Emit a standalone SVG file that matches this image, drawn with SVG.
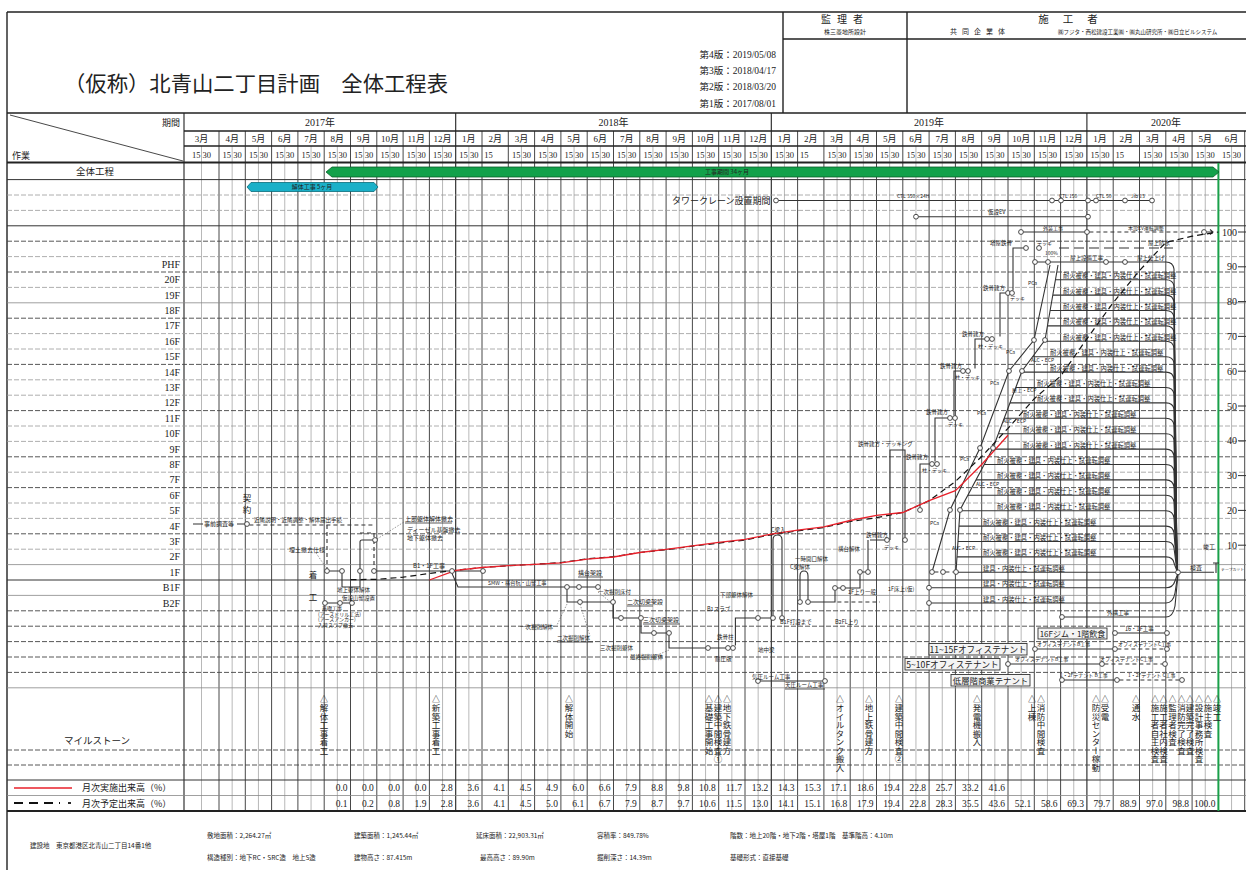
<svg xmlns="http://www.w3.org/2000/svg" xmlns:xlink="http://www.w3.org/1999/xlink" width="1246" height="870" viewBox="0 0 1246 870">
<defs>
<style>
.j{font-family:"Noto Sans CJK JP","Liberation Sans",sans-serif;fill:#222}
.n{font-family:"Liberation Serif","Noto Sans CJK JP",serif;fill:#222}
.v{writing-mode:vertical-rl;font-family:"Noto Sans CJK JP",sans-serif;font-size:8.5px;fill:#222}
.tri{font-family:"Noto Sans CJK JP",sans-serif;font-size:8px;fill:#222;text-anchor:middle}
.lk{stroke:#333;stroke-width:1.1;fill:none}
.ld{stroke:#333;stroke-width:1.1;fill:none;stroke-dasharray:4 3}
.lt{stroke:#555;stroke-width:0.6;fill:none;stroke-dasharray:1.5 1.5}
.gm{stroke:#333;stroke-width:0.9;fill:none}
.gh{stroke:#999;stroke-width:0.7;fill:none}
.hs{stroke:#333;stroke-width:1;fill:none}
.hg{stroke:#888;stroke-width:0.8;fill:none}
.hd{stroke:#444;stroke-width:0.9;fill:none;stroke-dasharray:5 2}
.hl{stroke:#999;stroke-width:0.8;fill:none;stroke-dasharray:5 2}
.s5{font-size:5px}
.s55{font-size:5.5px}
.s6{font-size:6px}
.fl{font-size:6.3px}
.box{fill:#f4f4f4;stroke:#333;stroke-width:0.9}
</style>
<circle id="o" r="2.4" fill="#fff" stroke="#333" stroke-width="0.9"/>
</defs>
<rect width="1246" height="870" fill="#fff"/>

<g id="title-block">
<path d="M7 12H1246M7 12V870M783 12V113M907 12V113M783 39H1246" stroke="#222" stroke-width="1.4" fill="none"/>
<text class="j" x="64" y="91" font-size="21" textLength="384" lengthAdjust="spacingAndGlyphs">（仮称）北青山二丁目計画　全体工程表</text>
<text class="n" font-size="9.5" text-anchor="end" x="776" y="57.5">第4版：2019/05/08</text>
<text class="n" font-size="9.5" text-anchor="end" x="776" y="74">第3版：2018/04/17</text>
<text class="n" font-size="9.5" text-anchor="end" x="776" y="90">第2版：2018/03/20</text>
<text class="n" font-size="9.5" text-anchor="end" x="776" y="107">第1版：2017/08/01</text>
<text class="j" x="845" y="23" font-size="10" text-anchor="middle" letter-spacing="6">監理者</text>
<text class="j" x="845" y="33.5" font-size="6" text-anchor="middle">株三菱地所設計</text>
<text class="j" x="1075" y="23" font-size="10.5" text-anchor="middle" letter-spacing="14">施工者</text>
<text class="j" x="980" y="33.5" font-size="7" text-anchor="middle" letter-spacing="5">共同企業体</text>
<text class="j" x="1058" y="33.5" font-size="5.5">㈱フジタ・西松建設工業㈱・㈱丸山研究所・㈱日立ビルシステム</text>
</g>

<g id="grid">
<path class="gh" d="M201.5 146V811M232.15 146V811M258.45 146V811M284.75 146V811M311.05 146V811M337.35 146V811M363.65 146V811M389.95 146V811M416.25 146V811M442.55 146V811M468.85 146V811M521.45 146V811M547.75 146V811M574.05 146V811M600.35 146V811M626.65 146V811M652.95 146V811M679.25 146V811M705.55 146V811M731.85 146V811M758.15 146V811M784.45 146V811M837.05 146V811M863.35 146V811M889.65 146V811M915.95 146V811M942.25 146V811M968.55 146V811M994.85 146V811M1021.15 146V811M1047.45 146V811M1073.75 146V811M1100.05 146V811M1152.65 146V811M1178.95 146V811M1205.25 146V811M1231.55 146V811"/>
<path class="gm" d="M219 131V811M245.3 131V811M271.6 131V811M297.9 131V811M324.2 131V811M350.5 131V811M376.8 131V811M403.1 131V811M429.4 131V811M482 131V811M508.3 131V811M534.6 131V811M560.9 131V811M587.2 131V811M613.5 131V811M639.8 131V811M666.1 131V811M692.4 131V811M718.7 131V811M745 131V811M797.6 131V811M823.9 131V811M850.2 131V811M876.5 131V811M902.8 131V811M929.1 131V811M955.4 131V811M981.7 131V811M1008 131V811M1034.3 131V811M1060.6 131V811M1113.2 131V811M1139.5 131V811M1165.8 131V811M1192.1 131V811M1244.7 131V811"/>
<path stroke="#222" stroke-width="1.1" fill="none" d="M184 113V811M455.7 113V811M771.3 113V811M1086.9 113V811"/>
<path class="hl" d="M7 195H1246M7 210.4H1246M7 256.6H1246M7 287.4H1246M7 333.6H1246M7 349H1246M7 379.8H1246M7 395.2H1246M7 426H1246M7 441.4H1246M7 472.2H1246M7 503H1246M7 518.4H1246M7 549.2H1246"/>
<path class="hd" d="M7 241.2H1246M7 272H1246M7 318.2H1246M7 364.4H1246M7 410.6H1246M7 456.8H1246M7 487.6H1246M7 533.8H1246M7 610.8H1246M7 626.2H1246M7 641.6H1246M7 657H1246M7 672.4H1246M7 750H1246M7 765H1246"/>
<path class="hg" d="M7 302.8H1246M7 564.6H1246M7 595.4H1246M7 687.8H1246M7 795.5H1246"/>
<path class="hs" d="M7 179.6H1246M7 225.8H1246M7 580H1246M7 780H1246"/>
<path stroke="#222" stroke-width="1.4" fill="none" d="M7 113H1246M184 131H1246M184 146H1246"/>
<path stroke="#222" stroke-width="2" fill="none" d="M7 162.5H1246M7 811H1246"/>
<path stroke="#333" stroke-width="0.9" fill="none" d="M10 115L183 161"/>
<path stroke="#1aa04a" stroke-width="2" fill="none" d="M1218.4 163V811"/>
</g>

<g id="header">
<text class="j" x="180" y="125.5" font-size="9" text-anchor="end">期間</text>
<text class="j" x="12" y="158.5" font-size="9">作業</text>
<text class="n" font-size="10" y="125.5" text-anchor="middle"><tspan x="320">2017年</tspan><tspan x="613.5">2018年</tspan><tspan x="929">2019年</tspan><tspan x="1166">2020年</tspan></text>
<text class="n" font-size="9" y="142" text-anchor="middle"><tspan x="201.5">3月</tspan><tspan x="232.15">4月</tspan><tspan x="258.45">5月</tspan><tspan x="284.75">6月</tspan><tspan x="311.05">7月</tspan><tspan x="337.35">8月</tspan><tspan x="363.65">9月</tspan><tspan x="389.95">10月</tspan><tspan x="416.25">11月</tspan><tspan x="442.55">12月</tspan><tspan x="468.85">1月</tspan><tspan x="495.15">2月</tspan><tspan x="521.45">3月</tspan><tspan x="547.75">4月</tspan><tspan x="574.05">5月</tspan><tspan x="600.35">6月</tspan><tspan x="626.65">7月</tspan><tspan x="652.95">8月</tspan><tspan x="679.25">9月</tspan><tspan x="705.55">10月</tspan><tspan x="731.85">11月</tspan><tspan x="758.15">12月</tspan><tspan x="784.45">1月</tspan><tspan x="810.75">2月</tspan><tspan x="837.05">3月</tspan><tspan x="863.35">4月</tspan><tspan x="889.65">5月</tspan><tspan x="915.95">6月</tspan><tspan x="942.25">7月</tspan><tspan x="968.55">8月</tspan><tspan x="994.85">9月</tspan><tspan x="1021.15">10月</tspan><tspan x="1047.45">11月</tspan><tspan x="1073.75">12月</tspan><tspan x="1100.05">1月</tspan><tspan x="1126.35">2月</tspan><tspan x="1152.65">3月</tspan><tspan x="1178.95">4月</tspan><tspan x="1205.25">5月</tspan><tspan x="1231.55">6月</tspan></text>
<text class="n" font-size="8.5" y="157.5" text-anchor="middle"><tspan x="201.5">15 30</tspan><tspan x="232.15">15 30</tspan><tspan x="258.45">15 30</tspan><tspan x="284.75">15 30</tspan><tspan x="311.05">15 30</tspan><tspan x="337.35">15 30</tspan><tspan x="363.65">15 30</tspan><tspan x="389.95">15 30</tspan><tspan x="416.25">15 30</tspan><tspan x="442.55">15 30</tspan><tspan x="468.85">15 30</tspan><tspan x="488.6">15</tspan><tspan x="521.45">15 30</tspan><tspan x="547.75">15 30</tspan><tspan x="574.05">15 30</tspan><tspan x="600.35">15 30</tspan><tspan x="626.65">15 30</tspan><tspan x="652.95">15 30</tspan><tspan x="679.25">15 30</tspan><tspan x="705.55">15 30</tspan><tspan x="731.85">15 30</tspan><tspan x="758.15">15 30</tspan><tspan x="784.45">15 30</tspan><tspan x="804.2">15</tspan><tspan x="837.05">15 30</tspan><tspan x="863.35">15 30</tspan><tspan x="889.65">15 30</tspan><tspan x="915.95">15 30</tspan><tspan x="942.25">15 30</tspan><tspan x="968.55">15 30</tspan><tspan x="994.85">15 30</tspan><tspan x="1021.15">15 30</tspan><tspan x="1047.45">15 30</tspan><tspan x="1073.75">15 30</tspan><tspan x="1100.05">15 30</tspan><tspan x="1119.8">15</tspan><tspan x="1152.65">15 30</tspan><tspan x="1178.95">15 30</tspan><tspan x="1205.25">15 30</tspan><tspan x="1231.55">15 30</tspan></text>
</g>

<g id="row-labels">
<text class="j" x="95" y="175" font-size="9.5" text-anchor="middle">全体工程</text>
<text class="n" font-size="10" text-anchor="end" x="180"><tspan x="180" y="267.8">PHF</tspan><tspan x="180" y="283.2">20F</tspan><tspan x="180" y="298.6">19F</tspan><tspan x="180" y="314">18F</tspan><tspan x="180" y="329.4">17F</tspan><tspan x="180" y="344.8">16F</tspan><tspan x="180" y="360.2">15F</tspan><tspan x="180" y="375.6">14F</tspan><tspan x="180" y="391">13F</tspan><tspan x="180" y="406.4">12F</tspan><tspan x="180" y="421.8">11F</tspan><tspan x="180" y="437.2">10F</tspan><tspan x="180" y="452.6">9F</tspan><tspan x="180" y="468">8F</tspan><tspan x="180" y="483.4">7F</tspan><tspan x="180" y="498.8">6F</tspan><tspan x="180" y="514.2">5F</tspan><tspan x="180" y="529.6">4F</tspan><tspan x="180" y="545">3F</tspan><tspan x="180" y="560.4">2F</tspan><tspan x="180" y="575.8">1F</tspan><tspan x="180" y="591.2">B1F</tspan><tspan x="180" y="606.6">B2F</tspan></text>
<text class="j" x="97" y="744" font-size="9.5" text-anchor="middle">マイルストーン</text>
</g>

<g id="overall-bars">
<polygon points="326,172 332,167 1213,167 1219,172 1213,177 332,177" fill="#12a14a" stroke="#0a5e2a" stroke-width="0.8"/>
<text class="j s6" x="727" y="174.2" text-anchor="middle" fill="#111">工事期間 34ヶ月</text>
<polygon points="247,187 251,182.5 374,182.5 378,187 374,191.5 251,191.5" fill="#1ab0c8" stroke="#0a6b7a" stroke-width="0.8"/>
<text class="j s6" x="312" y="189.3" text-anchor="middle" fill="#111">解体工事 5ヶ月</text>
</g>

<g id="scale">
<path stroke="#333" stroke-width="1" fill="none" d="M1238 232H1246M1238 266.8H1246M1238 301.6H1246M1238 336.4H1246M1238 371.2H1246M1238 406H1246M1238 440.8H1246M1238 475.6H1246M1238 510.4H1246M1238 545.2H1246"/>
<text class="n" font-size="10" text-anchor="end"><tspan x="1237" y="235.5">100</tspan><tspan x="1237" y="270.3">90</tspan><tspan x="1237" y="305.1">80</tspan><tspan x="1237" y="339.9">70</tspan><tspan x="1237" y="374.7">60</tspan><tspan x="1237" y="409.5">50</tspan><tspan x="1237" y="444.3">40</tspan><tspan x="1237" y="479.1">30</tspan><tspan x="1237" y="513.9">20</tspan><tspan x="1237" y="548.7">10</tspan></text>
</g>

<g id="connectors">
<path class="lk" d="M778.4 200.5H1049.6M1054.4 200.5H1058.6M1063.4 200.5H1085.6M1090.4 200.5H1093.6M1098.4 200.5H1122.6M1127.4 200.5H1149.6"/>
<path class="lk" d="M918.4 216.7H1085.6"/>
<path class="lk" d="M1023.4 232H1084.6"/>
<path class="ld" d="M1089.4 232H1201.6"/>
<path class="lk" d="M1206.4 232H1213M1210 229.5L1213 232L1210 234.5"/>
<path d="M1059 248H1173" stroke="#333" stroke-width="1.1" fill="none" stroke-dasharray="10 5"/>
<path class="lk" d="M1023.6 248H1013V290.6M1005.6 293H1000V336.6M984.6 339H975V368.6M960.6 371H954V415.6M947.6 418H935V461.6M929.6 464H920V507.6"/>
<path class="lk" d="M890 540V450H905V537.6M870 540H884.6"/>
<path class="lk" d="M932 572L950 510L980 448L1009 371L1034 340L1050 265"/>
<path class="lk" d="M956 572L960 510L993 448L1022 371L1045 340L1058 265"/>
<path class="ld" d="M934.4 572H940.6M945.4 572H953.6"/>
<path class="lk" d="M956 572.3H1175.6"/>
<path class="lk" d="M957 556.9H1166Q1173 556.9 1174 563L1177 571"/>
<path class="lk" d="M958 541.5H1166Q1173 541.5 1174 548L1177 571"/>
<path class="lk" d="M959 526.1H1166Q1173 526.1 1174 533L1177 571"/>
<path class="lk" d="M960 510.7H1166Q1173 510.7 1174 518L1177 571"/>
<path class="lk" d="M968 495.3H1166Q1173 495.3 1174 502L1177 571"/>
<path class="lk" d="M976 479.9H1166Q1173 479.9 1174 487L1177 571"/>
<path class="lk" d="M984 464.5H1166Q1173 464.5 1174 471L1177 571"/>
<path class="lk" d="M993.5 449.1H1166Q1173 449.1 1174 456L1177 571"/>
<path class="lk" d="M999 433.7H1166Q1173 433.7 1174 440L1177 571"/>
<path class="lk" d="M1004 418.3H1166Q1173 418.3 1174 425L1177 571"/>
<path class="lk" d="M1010 402.9H1166Q1173 402.9 1174 409L1177 571"/>
<path class="lk" d="M1016 387.5H1166Q1173 387.5 1174 394L1177 571"/>
<path class="lk" d="M1022 372.1H1166Q1173 372.1 1174 379L1177 571"/>
<path class="lk" d="M1032.6 356.7H1166Q1173 356.7 1174 363L1177 571"/>
<path class="lk" d="M1044.5 341.3H1166Q1173 341.3 1174 348L1177 571"/>
<path class="lk" d="M1047.5 325.9H1166Q1173 325.9 1174 332L1177 571"/>
<path class="lk" d="M1050 310.5H1166Q1173 310.5 1174 317L1177 571"/>
<path class="lk" d="M1053 295.1H1166Q1173 295.1 1174 302L1177 571"/>
<path class="lk" d="M1056 279.7H1166Q1173 279.7 1174 286L1177 571"/>
<path class="lk" d="M1037.4 262H1166Q1173 262 1174 269L1177 571"/>
<path class="lk" d="M931.4 587.7H1166Q1173 587.7 1175 581L1177.5 574.4"/>
<path class="lk" d="M931.4 603H1166Q1173 603 1175 593L1177.8 574.4"/>
<path class="lk" d="M1064.4 617H1166Q1173 617 1175 606L1178 574.4"/>
<path class="lk" d="M1180.4 572.3H1214M1213 563H1219M1216 563V573"/>
<path class="lk" d="M1117.4 633H1164.6M1037.4 649H1112.6M1010.4 664H1099.6M1064.4 680H1114.6"/>
<path class="ld" d="M1117.4 649H1164.6M1104.4 664H1162.6M1119.4 680H1179.6"/>
<path class="lk" d="M193 524H203M237 524H244.6"/>
<path class="ld" d="M249.4 525H373"/>
<path class="ld" stroke-width="1.6" d="M327 525V568.6"/>
<path class="lk" d="M329.4 571H339.6M342 573.4V587H360V542Q360 540 362 540H372.6"/>
<path class="ld" d="M360 533H374M374 533V568.6"/>
<path class="lt" d="M377 539L404 522M327 569L316 553"/>
<path class="lk" d="M376.4 571H449.6M454.4 571H480.6"/>
<path class="lk" d="M452 573.4L458 587H564.6M569.4 587H576.6M581.4 587H595.6"/>
<path class="lk" d="M327.4 603H337.6M342.4 603H349.6"/>
<path class="lk" d="M567 589.4V602H577.6M582.4 602H610.6"/>
<path class="lk" d="M613 604.4V618H618.6M623.4 618H638.6"/>
<path class="lk" d="M641 620.4V633H651.6M656.4 633H666.6M669 635.4V648H705.6M710.4 648H725.6M735.4 645.6V618H755.6M760.4 618H770.6"/>
<path class="lt" d="M567 604L557 625M580 604L590 636M669 650L655 656M613 604L598 592"/>
<path class="lk" d="M773 615.6V540Q773 535 777.5 535Q782 535 782 540V615.6"/>
<path class="lk" d="M800 599.6V576Q800 571 804 571Q808 571 808 576V599.6M810.4 602H835V590.4M837.4 588H840.6M845.4 588H860V574.4M862.4 572H865.6M868 569.6V540"/>
<path class="ld" d="M837.4 602H880"/>
<path class="lk" d="M760.4 681H822.6"/>
<path d="M350.5 579.7L376.8 579.3L403.1 577.2L429.4 573.4L455.7 570.3L482 567.5L508.3 565.7L534.6 564.3L560.9 562.6L587.2 558.8L613.5 556.7L639.8 552.5L666.1 549.7L692.4 546.2L718.7 543.1L745 540L771.3 534.8L797.6 530.9L823.9 527.5L850.2 521.5L876.5 517.7L902.8 512.5L929.1 500.7L955.4 481.5L981.7 456.5L1008 428.3L1034.3 398.7L1060.6 376.1L1086.9 338.8L1113.2 302.6L1139.5 270.6L1165.8 242.4L1192.1 236.2L1218.4 232" stroke="#111" stroke-width="1.2" fill="none" stroke-dasharray="6 4"/>
<path d="M429.4 580L455.7 570.3L482 567.5L508.3 565.7L534.6 564.3L560.9 562.9L587.2 559.1L613.5 557L639.8 552.5L666.1 549.4L692.4 545.9L718.7 542.4L745 539.3L771.3 534.1L797.6 530.2L823.9 526.8L850.2 520.5L876.5 515.3L902.8 512.5L929.1 500.7L955.4 490.6L981.7 464.5L1008 435.2" stroke="#e8202a" stroke-width="1.3" fill="none"/>
</g>

<g id="nodes">
<use href="#o" x="776" y="200.5"/><use href="#o" x="1052" y="200.5"/><use href="#o" x="1061" y="200.5"/><use href="#o" x="1088" y="200.5"/><use href="#o" x="1096" y="200.5"/><use href="#o" x="1125" y="200.5"/><use href="#o" x="1152" y="200.5"/>
<use href="#o" x="916" y="216.7"/><use href="#o" x="1088" y="216.7"/>
<use href="#o" x="1021" y="232"/><use href="#o" x="1087" y="232"/><use href="#o" x="1204" y="232"/>
<use href="#o" x="1026" y="248"/><use href="#o" x="1039" y="248"/>
<use href="#o" x="1035" y="262"/><use href="#o" x="1048" y="262"/><use href="#o" x="1106" y="262"/><use href="#o" x="1125" y="262"/>
<use href="#o" x="1008" y="293"/><use href="#o" x="1012" y="293"/>
<use href="#o" x="987" y="339"/><use href="#o" x="992" y="339"/>
<use href="#o" x="963" y="371"/><use href="#o" x="968" y="371"/>
<use href="#o" x="950" y="418"/><use href="#o" x="955" y="418"/>
<use href="#o" x="932" y="464"/><use href="#o" x="937" y="464"/>
<use href="#o" x="920" y="510"/><use href="#o" x="887" y="540"/><use href="#o" x="905" y="540"/>
<use href="#o" x="932" y="572"/><use href="#o" x="943" y="572"/><use href="#o" x="956" y="572"/>
<use href="#o" x="950" y="510"/><use href="#o" x="960" y="510"/><use href="#o" x="980" y="448"/><use href="#o" x="993" y="448"/><use href="#o" x="1009" y="371"/><use href="#o" x="1022" y="371"/><use href="#o" x="1034" y="340"/><use href="#o" x="1045" y="340"/>
<use href="#o" x="929" y="587.7"/><use href="#o" x="929" y="603"/>
<use href="#o" x="1178" y="572.3"/>
<use href="#o" x="1062" y="617"/>
<use href="#o" x="1115" y="633"/><use href="#o" x="1167" y="633"/>
<use href="#o" x="1035" y="649"/><use href="#o" x="1115" y="649"/><use href="#o" x="1167" y="649"/>
<use href="#o" x="1008" y="664"/><use href="#o" x="1102" y="664"/><use href="#o" x="1165" y="664"/>
<use href="#o" x="1062" y="680"/><use href="#o" x="1117" y="680"/><use href="#o" x="1182" y="680"/>
<use href="#o" x="247" y="524"/>
<use href="#o" x="327" y="571"/><use href="#o" x="342" y="571"/><use href="#o" x="360" y="571"/><use href="#o" x="375" y="540"/><use href="#o" x="374" y="571"/>
<use href="#o" x="452" y="571"/><use href="#o" x="483" y="571"/>
<use href="#o" x="567" y="587"/><use href="#o" x="579" y="587"/><use href="#o" x="598" y="587"/>
<use href="#o" x="325" y="603"/><use href="#o" x="340" y="603"/><use href="#o" x="352" y="603"/>
<use href="#o" x="580" y="602"/><use href="#o" x="613" y="602"/>
<use href="#o" x="621" y="618"/><use href="#o" x="641" y="618"/>
<use href="#o" x="654" y="633"/><use href="#o" x="669" y="633"/>
<use href="#o" x="708" y="648"/><use href="#o" x="728" y="648"/><use href="#o" x="733" y="648"/>
<use href="#o" x="758" y="618"/><use href="#o" x="773" y="618"/><use href="#o" x="782" y="618"/>
<use href="#o" x="800" y="602"/><use href="#o" x="808" y="602"/><use href="#o" x="835" y="588"/><use href="#o" x="843" y="588"/><use href="#o" x="860" y="572"/><use href="#o" x="868" y="572"/>
<use href="#o" x="758" y="681"/><use href="#o" x="825" y="681"/>
</g>

<g id="labels">
<text class="j" x="672" y="204" font-size="9">タワークレーン設置期間</text>
<text class="j s5" x="897" y="198">CTL 350×24H</text>
<text class="j s5" x="1059" y="198">CTL 150</text>
<text class="j s5" x="1096" y="198">CTL 50</text>
<text class="j s5" x="1131" y="198">Jib 13</text>
<text class="j s55" x="988" y="214">仮設EV</text>
<text class="j s5" x="1043" y="229.5">外装工事</text>
<text class="j s5" x="1128" y="229.5">本設EV運転調整</text>
<text class="j s55" x="990" y="245">塔屋鉄骨</text>
<text class="j s5" x="1037" y="245">デッキ</text>
<text class="j s55" x="1148" y="245">屋上防水</text>
<text class="j s5" x="1045" y="255">100%</text>
<text class="j s55" x="1070" y="259.5">屋上設備工事</text>
<text class="j s55" x="1137" y="259.5">屋上仕上げ</text>
<text class="j s55" x="983" y="290">鉄骨建方</text>
<text class="j s5" x="1010" y="300">デッキ</text>
<text class="j s55" x="962" y="336">鉄骨建方</text>
<text class="j s5" x="978" y="348">柱・デッキ</text>
<text class="j s55" x="940" y="368">鉄骨建方</text>
<text class="j s5" x="955" y="379">柱・デッキ</text>
<text class="j s55" x="926" y="414">鉄骨建方</text>
<text class="j s5" x="948" y="426">デッキ</text>
<text class="j s55" x="906" y="459">鉄骨建方</text>
<text class="j s5" x="922" y="472">柱・デッキ</text>
<text class="j s55" x="858" y="446">鉄骨建方・デッキング</text>
<text class="j s5" x="884" y="549">デッキ</text>
<text class="j s5" x="1028" y="285" fill="#234">PCa</text>
<text class="j s5" x="1006" y="354" fill="#234">PCa</text>
<text class="j s5" x="1031" y="362" fill="#234">ALC・ECP</text>
<text class="j s5" x="990" y="385" fill="#234">PCa</text>
<text class="j s5" x="1012" y="392" fill="#234">屋上・ECP</text>
<text class="j s5" x="977" y="415" fill="#234">PCa</text>
<text class="j s5" x="1003" y="423" fill="#234">ALC・ECP</text>
<text class="j s5" x="960" y="461" fill="#234">PCa</text>
<text class="j s5" x="976" y="486" fill="#234">ALC・ECP</text>
<text class="j s5" x="930" y="525" fill="#234">PCa</text>
<text class="j s5" x="952" y="550" fill="#234">ALC・ECP</text>
<text class="j fl" x="1063" y="278">耐火被覆・建具・内装仕上・試運転調整</text>
<text class="j fl" x="1063" y="293.6">耐火被覆・建具・内装仕上・試運転調整</text>
<text class="j fl" x="1063" y="309">耐火被覆・建具・内装仕上・試運転調整</text>
<text class="j fl" x="1063" y="324.4">耐火被覆・建具・内装仕上・試運転調整</text>
<text class="j fl" x="1063" y="339.8">耐火被覆・建具・内装仕上・試運転調整</text>
<text class="j fl" x="1050" y="355.2">耐火被覆・建具・内装仕上・試運転調整</text>
<text class="j fl" x="1050" y="370.6">耐火被覆・建具・内装仕上・試運転調整</text>
<text class="j fl" x="1037" y="386">耐火被覆・建具・内装仕上・試運転調整</text>
<text class="j fl" x="1037" y="401.4">耐火被覆・建具・内装仕上・試運転調整</text>
<text class="j fl" x="1023" y="416.8">耐火被覆・建具・内装仕上・試運転調整</text>
<text class="j fl" x="1023" y="432.2">耐火被覆・建具・内装仕上・試運転調整</text>
<text class="j fl" x="1023" y="447.6">耐火被覆・建具・内装仕上・試運転調整</text>
<text class="j fl" x="997" y="463">耐火被覆・建具・内装仕上・試運転調整</text>
<text class="j fl" x="997" y="478.4">耐火被覆・建具・内装仕上・試運転調整</text>
<text class="j fl" x="997" y="493.8">耐火被覆・建具・内装仕上・試運転調整</text>
<text class="j fl" x="997" y="509.2">耐火被覆・建具・内装仕上・試運転調整</text>
<text class="j fl" x="983" y="524.6">耐火被覆・建具・内装仕上・試運転調整</text>
<text class="j fl" x="983" y="540">耐火被覆・建具・内装仕上・試運転調整</text>
<text class="j fl" x="983" y="555.4">耐火被覆・建具・内装仕上・試運転調整</text>
<text class="j fl" x="983" y="570.8">建具・内装仕上・試運転調整</text>
<text class="j fl" x="983" y="586.2">建具・内装仕上・試運転調整</text>
<text class="j fl" x="983" y="601.5">建具・内装仕上・試運転調整</text>
<text class="j s55" x="888" y="591">1F床上(仮)</text>
<text class="j s6" x="1190" y="570">検査</text>
<text class="j s6" x="1203" y="549">竣工</text>
<text class="j" x="1221" y="571" font-size="3.9">テープカット</text>
<text class="j s55" x="1107" y="615">外構工事</text>
<rect class="box" x="1038" y="628" width="69" height="11"/>
<text class="j" x="1072.5" y="636.8" font-size="8" text-anchor="middle">16Fジム・1階飲食</text>
<text class="j s55" x="1125" y="630.5">16・1F工事</text>
<rect class="box" x="929" y="643.5" width="98" height="11.5"/>
<text class="j" x="978" y="652.6" font-size="8.6" text-anchor="middle">11~15Fオフィステナント</text>
<text class="j s5" x="1037" y="646">オフィステナントB工事</text>
<text class="j s5" x="1118" y="646">オフィステナントC工事</text>
<rect class="box" x="905" y="658.5" width="95" height="11.5"/>
<text class="j" x="952.5" y="667.6" font-size="8.6" text-anchor="middle">5~10Fオフィステナント</text>
<text class="j s5" x="1015" y="661">オフィステナントB工事</text>
<text class="j s5" x="1100" y="661">オフィステナントC工事</text>
<rect class="box" x="951" y="674.5" width="79" height="11.5"/>
<text class="j" x="990.5" y="683.6" font-size="8.4" text-anchor="middle">低層階商業テナント</text>
<text class="j s5" x="1060" y="677">1・2Fテナント B工事</text>
<text class="j s5" x="1128" y="677">1・2Fテナント C工事</text>
<text class="j s6" x="204" y="526">事前調査等</text>
<text class="j" x="247" y="500.5" font-size="8.5" text-anchor="middle">契</text>
<text class="j" x="247" y="512.5" font-size="8.5" text-anchor="middle">約</text>
<text class="j s55" x="254" y="522">近隣説明・近隣調整・解体届出手続</text>
<text class="j s6" x="289" y="552">埋土撤去仕様</text>
<text class="j" x="313" y="577.5" font-size="8.5" text-anchor="middle">着</text>
<text class="j" x="313" y="600" font-size="8.5" text-anchor="middle">工</text>
<text class="j s55" x="337" y="592">地上躯体解体</text>
<text class="j s55" x="342" y="599.5">仮設山留設置</text>
<text class="j s5" x="322" y="610">基礎工事</text>
<text class="j s5" x="318" y="615.5">(アースドリル工法)</text>
<text class="j s5" x="318" y="621">(アースアンカー)</text>
<text class="j s5" x="318" y="626.5">入荷スラブ撤去</text>
<text class="j s6" x="405" y="521">上部躯体解体撤去</text>
<path d="M405 523H452" stroke="#333" stroke-width="0.8"/>
<text class="j s6" x="407" y="532">ディーゼル基盤撤去</text>
<text class="j s6" x="407" y="540">地下躯体撤去</text>
<text class="j s6" x="413" y="567.5">B1・1F工事</text>
<text class="j" x="488" y="584.5" font-size="5.2">SMW・構台杭・山留工事</text>
<text class="j s6" x="578" y="575">構台架設</text>
<path d="M578 577H603M627 606H653M557 642H593M643 624H680M785 689H825" stroke="#333" stroke-width="0.8"/>
<text class="j s55" x="598" y="594">一次掘削床付</text>
<text class="j s6" x="627" y="604">二次切梁架設</text>
<text class="j s55" x="520" y="629">一次掘削解体</text>
<text class="j s55" x="557" y="640">二次掘削解体</text>
<text class="j s6" x="643" y="622">三次切梁架設</text>
<text class="j s55" x="600" y="650">三次掘削躯体</text>
<text class="j s55" x="630" y="659">最終掘削躯体</text>
<text class="j s55" x="715" y="661">耐圧版</text>
<text class="j s55" x="758" y="652">地中梁</text>
<text class="j s55" x="717" y="639">鉄骨柱</text>
<text class="j s55" x="707" y="611">B1スラブ</text>
<text class="j s55" x="720" y="597">下部躯体解体</text>
<text class="j s55" x="771" y="532">C梁入</text>
<text class="j s55" x="780" y="624">B1F打設まで</text>
<text class="j s55" x="795" y="561">一時開口解体</text>
<text class="j s55" x="790" y="569">C梁解体</text>
<text class="j s55" x="835" y="624">B2FL上り</text>
<text class="j s55" x="838" y="551">構台解体</text>
<text class="j s55" x="848" y="594">1F上り一般</text>
<text class="j s55" x="866" y="537">鉄骨建方</text>
<text class="j s55" x="752" y="678.5">気圧ルーム工事</text>
<text class="j s55" x="785" y="687">天圧ルーム工事</text>
</g>

<g id="milestones">
<text class="tri" y="702"><tspan x="324">△</tspan><tspan x="436">△</tspan><tspan x="569">△</tspan><tspan x="709">△</tspan><tspan x="718">△</tspan><tspan x="727">△</tspan><tspan x="840">△</tspan><tspan x="869">△</tspan><tspan x="899">△</tspan><tspan x="977">△</tspan><tspan x="1032">△</tspan><tspan x="1041">△</tspan><tspan x="1096">△</tspan><tspan x="1105">△</tspan><tspan x="1136">△</tspan><tspan x="1155">△</tspan><tspan x="1163.5">△</tspan><tspan x="1172.5">△</tspan><tspan x="1181.5">△</tspan><tspan x="1190">△</tspan><tspan x="1199">△</tspan><tspan x="1208">△</tspan><tspan x="1217">△</tspan></text>
<text class="v" x="324" y="704">解体工事着工</text>
<text class="v" x="436" y="704">新築工事着工</text>
<text class="v" x="569" y="704">解体開始</text>
<text class="v" x="709" y="704">基礎工事開始</text>
<text class="v" x="718" y="704">建築中間検査①</text>
<text class="v" x="727" y="704">地下鉄骨建方</text>
<text class="v" x="840" y="704">オイルタンク搬入</text>
<text class="v" x="869" y="704">地上鉄骨建方</text>
<text class="v" x="899" y="704">建築中間検査②</text>
<text class="v" x="977" y="704">発電機搬入</text>
<text class="v" x="1032" y="704">上棟</text>
<text class="v" x="1041" y="704">消防中間検査</text>
<text class="v" x="1096" y="704">防災センター稼動</text>
<text class="v" x="1105" y="704">受電</text>
<text class="v" x="1136" y="704">通水</text>
<text class="v" x="1155" y="704">施工者自主検査</text>
<text class="v" x="1163.5" y="704">施工者社内検査</text>
<text class="v" x="1172.5" y="704">監理者検査</text>
<text class="v" x="1181.5" y="704">消防完了検査</text>
<text class="v" x="1190" y="704">建築完了検査</text>
<text class="v" x="1199" y="704">設計事務所検査</text>
<text class="v" x="1208" y="704">施主検査</text>
<text class="v" x="1217" y="704">竣工</text>
</g>

<g id="progress-table">
<path d="M14 788H72" stroke="#e8202a" stroke-width="1.6"/>
<path d="M14 803H60" stroke="#111" stroke-width="1.8" stroke-dasharray="9 6"/>
<path d="M68 803H71" stroke="#111" stroke-width="1.8"/>
<text class="j" x="82" y="791.3" font-size="9">月次実施出来高（%）</text>
<text class="j" x="82" y="806.5" font-size="9">月次予定出来高（%）</text>
<text class="n" font-size="9.5" y="791.3" text-anchor="end"><tspan x="347.5">0.0</tspan><tspan x="373.8">0.0</tspan><tspan x="400.1">0.0</tspan><tspan x="426.4">0.0</tspan><tspan x="452.7">2.8</tspan><tspan x="479">3.6</tspan><tspan x="505.3">4.1</tspan><tspan x="531.6">4.5</tspan><tspan x="557.9">4.9</tspan><tspan x="584.2">6.0</tspan><tspan x="610.5">6.6</tspan><tspan x="636.8">7.9</tspan><tspan x="663.1">8.8</tspan><tspan x="689.4">9.8</tspan><tspan x="715.7">10.8</tspan><tspan x="742">11.7</tspan><tspan x="768.3">13.2</tspan><tspan x="794.6">14.3</tspan><tspan x="820.9">15.3</tspan><tspan x="847.2">17.1</tspan><tspan x="873.5">18.6</tspan><tspan x="899.8">19.4</tspan><tspan x="926.1">22.8</tspan><tspan x="952.4">25.7</tspan><tspan x="978.7">33.2</tspan><tspan x="1005">41.6</tspan></text>
<text class="n" font-size="9.5" y="806.5" text-anchor="end"><tspan x="347.5">0.1</tspan><tspan x="373.8">0.2</tspan><tspan x="400.1">0.8</tspan><tspan x="426.4">1.9</tspan><tspan x="452.7">2.8</tspan><tspan x="479">3.6</tspan><tspan x="505.3">4.1</tspan><tspan x="531.6">4.5</tspan><tspan x="557.9">5.0</tspan><tspan x="584.2">6.1</tspan><tspan x="610.5">6.7</tspan><tspan x="636.8">7.9</tspan><tspan x="663.1">8.7</tspan><tspan x="689.4">9.7</tspan><tspan x="715.7">10.6</tspan><tspan x="742">11.5</tspan><tspan x="768.3">13.0</tspan><tspan x="794.6">14.1</tspan><tspan x="820.9">15.1</tspan><tspan x="847.2">16.8</tspan><tspan x="873.5">17.9</tspan><tspan x="899.8">19.4</tspan><tspan x="926.1">22.8</tspan><tspan x="952.4">28.3</tspan><tspan x="978.7">35.5</tspan><tspan x="1005">43.6</tspan><tspan x="1031.3">52.1</tspan><tspan x="1057.6">58.6</tspan><tspan x="1083.9">69.3</tspan><tspan x="1110.2">79.7</tspan><tspan x="1136.5">88.9</tspan><tspan x="1162.8">97.0</tspan><tspan x="1189.1">98.8</tspan><tspan x="1215.4">100.0</tspan></text>
</g>

<g id="project-info">
<text class="j" x="30" y="848" font-size="6.5">建設地　東京都港区北青山二丁目14番1他</text>
<text class="j" x="207" y="838" font-size="6.5">敷地面積：2,264.27㎡</text>
<text class="j" x="354" y="838" font-size="6.5">建築面積：1,245.44㎡</text>
<text class="j" x="476" y="838" font-size="6.5">延床面積：22,903.31㎡</text>
<text class="j" x="597" y="838" font-size="6.5">容積率：849.78%</text>
<text class="j" x="730" y="838" font-size="6.5">階数：地上20階・地下2階・塔屋1階　基準階高：4.10m</text>
<text class="j" x="207" y="860" font-size="6.5">構造種別：地下RC・SRC造　地上S造</text>
<text class="j" x="354" y="860" font-size="6.5">建物高さ：87.415m</text>
<text class="j" x="480" y="860" font-size="6.5">最高高さ：89.90m</text>
<text class="j" x="597" y="860" font-size="6.5">掘削深さ：14.39m</text>
<text class="j" x="730" y="860" font-size="6.5">基礎形式：直接基礎</text>
</g>
</svg>
